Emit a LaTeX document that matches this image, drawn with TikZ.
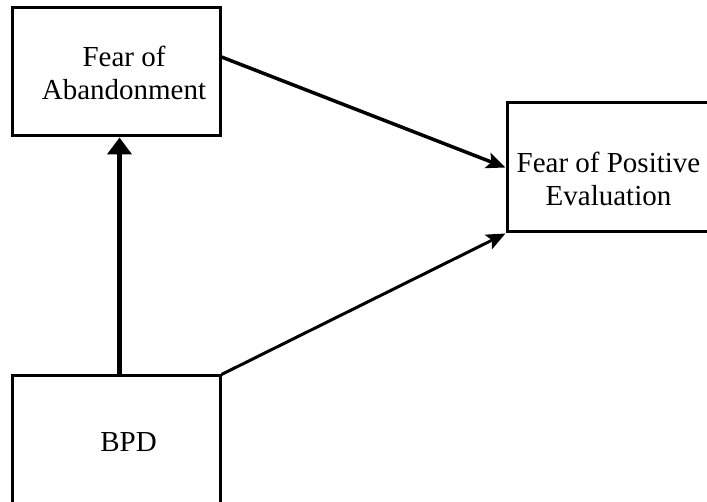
\documentclass[tikz,border=0pt]{standalone}
\usepackage{fontspec}
\setmainfont{Liberation Serif}
\usetikzlibrary{arrows.meta}
\begin{document}
\begin{tikzpicture}[x=1pt,y=1pt,
  box/.style={draw=black, line width=3pt, minimum width=208pt, inner sep=0pt},
  lbl/.style={inner sep=0pt, align=center, font=\fontsize{29}{33}\selectfont},
  conn/.style={line width=3.5pt, -{Stealth[length=19pt,width=16pt,inset=4pt]}}]
\clip (0,0) rectangle (707,501);
\fill[white] (0,0) rectangle (707,501);
\node[box, minimum height=128pt] (fa) at (116,429) {};
\node[box, minimum height=129pt] (fpe) at (611,333.5) {};
\node[box, minimum height=130pt] (bpd) at (116,60) {};
\node[lbl] (fat) at (124,428.4) {Fear of\\Abandonment};
\node[lbl] (fpet) at (608.5,322.4) {Fear of Positive\\Evaluation};
\node[lbl] (bpdt) at (128.5,58.6) {BPD};
\draw[conn] ([yshift=15pt]fa.east) -- (fpe.west);
\draw[conn, line width=3pt] (bpd.north east) -- (fpe.south west);
\draw[line width=5.5pt, -{Triangle[length=17pt,width=24pt]}] ([xshift=3.5pt]bpd.north) -- ([xshift=3.5pt]fa.south);
\end{tikzpicture}
\end{document}
